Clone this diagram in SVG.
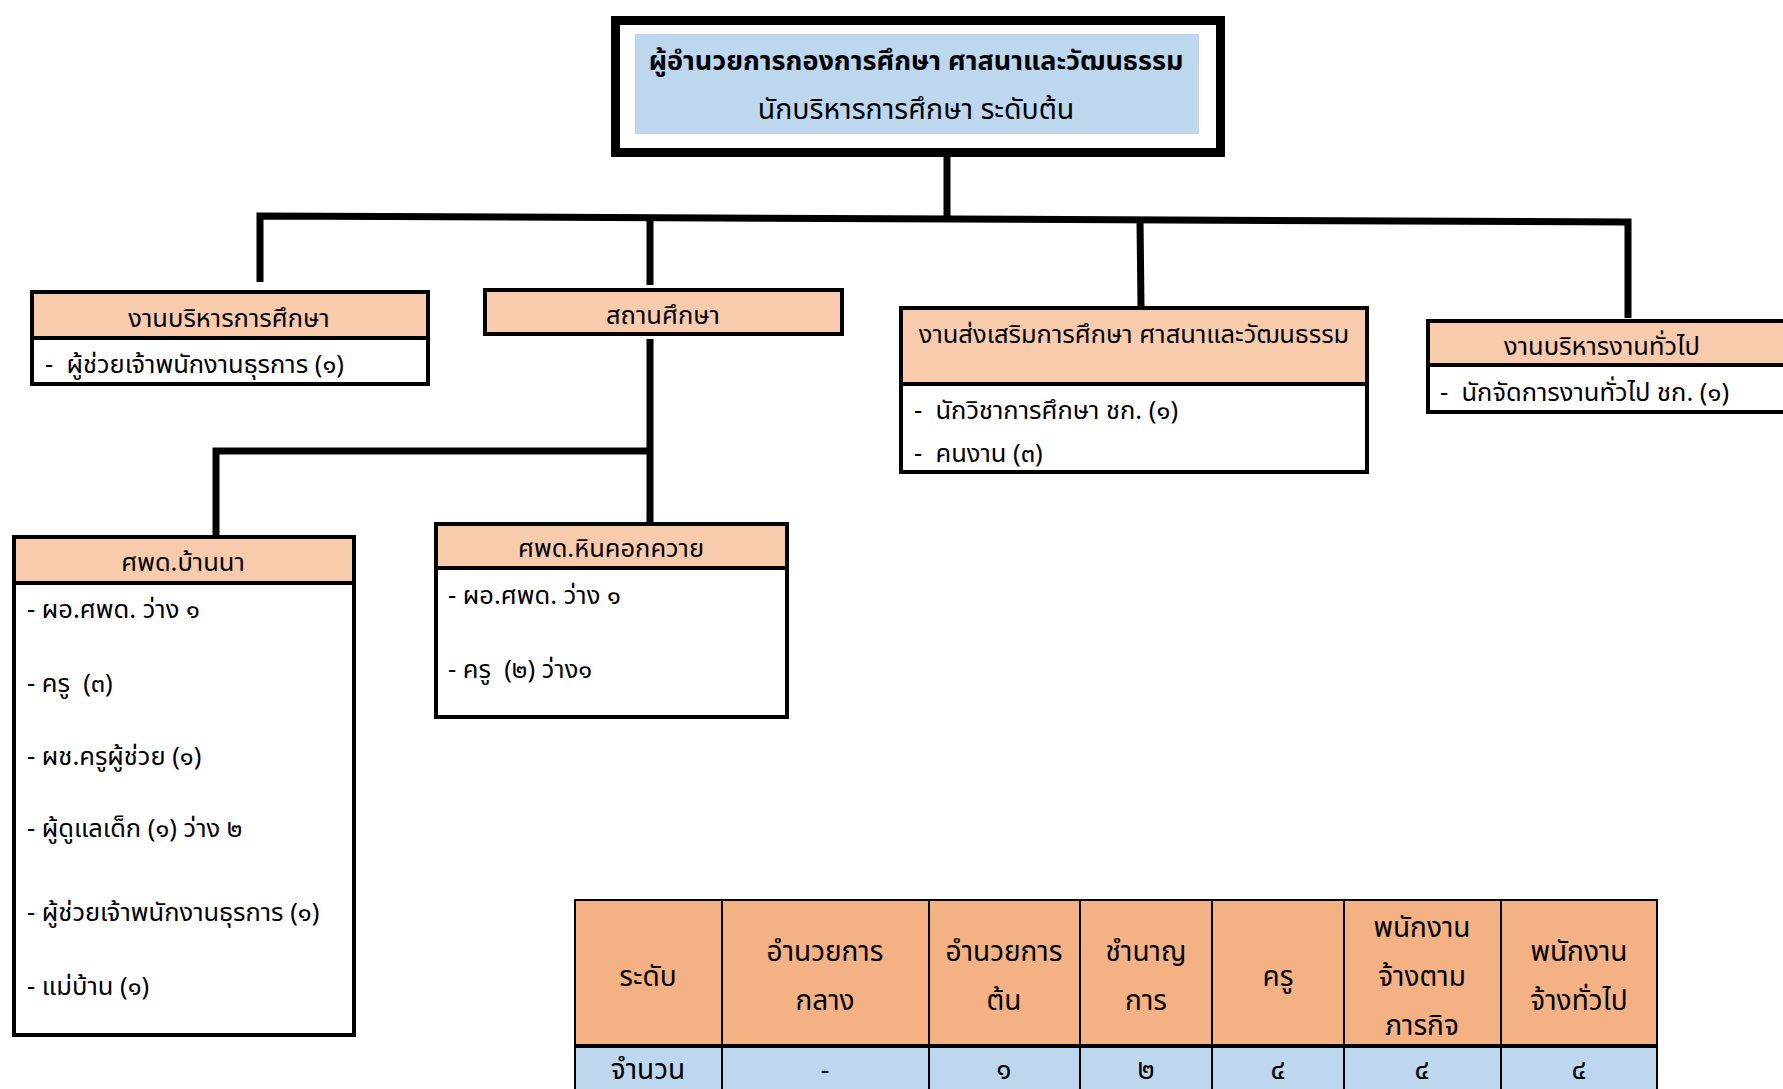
<svg xmlns="http://www.w3.org/2000/svg" width="1783" height="1089" viewBox="0 0 1783 1089" xml:space="preserve">
<style>
  text { font-family: "Noto Sans Thai", "Noto Sans", "DejaVu Sans", sans-serif; fill: #000; white-space: pre; }
  .t { font-size: 25.5px; }
  .tt { font-size: 28px; }
  .c { text-anchor: middle; }
  .b { font-weight: bold; }
  .box { fill: #fff; stroke: #000; stroke-width: 4; }
  .hdr { fill: #F8CBAD; stroke: #000; stroke-width: 4; }
  .conn { fill: none; stroke: #000; stroke-width: 7; stroke-linejoin: miter; }
  .th { fill: #F4B183; stroke: #000; stroke-width: 2; }
  .td { fill: #BDD7EE; stroke: #000; stroke-width: 2; }
</style>
<rect width="1783" height="1089" fill="#fff"/>
<g id="connectors">
  <line class="conn" x1="947" y1="157" x2="947" y2="218"/>
  <polyline class="conn" points="260,282 260,216 1628,222 1628,318"/>
  <line class="conn" x1="650" y1="217" x2="650" y2="285"/>
  <line class="conn" x1="1140" y1="220" x2="1141" y2="306"/>
  <line class="conn" x1="650" y1="339" x2="650" y2="522"/>
  <polyline class="conn" points="216,536 216,451 650,451"/>
</g>
<g id="director">
  <rect x="615.5" y="20.5" width="605" height="132" fill="#fff" stroke="#000" stroke-width="9"/>
  <rect x="635" y="34" width="564" height="100" fill="#BDD7EE"/>
  <text class="c b" x="916" y="70" font-size="27">ผู้อำนวยการกองการศึกษา ศาสนาและวัฒนธรรม</text>
  <text class="c" x="916" y="119" font-size="28.5">นักบริหารการศึกษา ระดับต้น</text>
</g>
<g id="admin-edu">
  <rect class="box" x="32" y="292" width="396" height="92"/>
  <rect class="hdr" x="32" y="292" width="396" height="46"/>
  <text class="t c" x="229" y="327">งานบริหารการศึกษา</text>
  <text class="t" x="45" y="373">-  ผู้ช่วยเจ้าพนักงานธุรการ (๑)</text>
</g>
<g id="school">
  <rect class="hdr" x="485" y="290" width="357" height="44"/>
  <text class="t c" x="663" y="324">สถานศึกษา</text>
</g>
<g id="promotion">
  <rect class="box" x="901" y="308" width="466" height="164"/>
  <rect class="hdr" x="901" y="308" width="466" height="76"/>
  <text class="t c" x="1134" y="343">งานส่งเสริมการศึกษา ศาสนาและวัฒนธรรม</text>
  <text class="t" x="914" y="419">-  นักวิชาการศึกษา ชก. (๑)</text>
  <text class="t" x="914" y="462">-  คนงาน (๓)</text>
</g>
<g id="general-admin">
  <rect class="box" x="1428" y="321" width="370" height="91"/>
  <rect class="hdr" x="1428" y="321" width="370" height="44"/>
  <text class="t c" x="1602" y="355">งานบริหารงานทั่วไป</text>
  <text class="t" x="1440" y="401">-  นักจัดการงานทั่วไป ชก. (๑)</text>
</g>
<g id="ban-na">
  <rect class="box" x="14" y="537" width="340" height="498"/>
  <rect class="hdr" x="14" y="537" width="340" height="46"/>
  <text class="t c" x="183" y="571">ศพด.บ้านนา</text>
  <text class="t" x="27" y="618">- ผอ.ศพด. ว่าง ๑</text>
  <text class="t" x="27" y="692">- ครู  (๓)</text>
  <text class="t" x="27" y="765">- ผช.ครูผู้ช่วย (๑)</text>
  <text class="t" x="27" y="837">- ผู้ดูแลเด็ก (๑) ว่าง ๒</text>
  <text class="t" x="27" y="921">- ผู้ช่วยเจ้าพนักงานธุรการ (๑)</text>
  <text class="t" x="27" y="995">- แม่บ้าน (๑)</text>
</g>
<g id="hin-khok-khwai">
  <rect class="box" x="436" y="524" width="351" height="193"/>
  <rect class="hdr" x="436" y="524" width="351" height="44"/>
  <text class="t c" x="611" y="557">ศพด.หินคอกควาย</text>
  <text class="t" x="448" y="604">- ผอ.ศพด. ว่าง ๑</text>
  <text class="t" x="448" y="678">- ครู  (๒) ว่าง๑</text>
</g>
<g id="summary-table">
  <rect class="th" x="575" y="900" width="147" height="146"/>
  <rect class="th" x="722" y="900" width="207" height="146"/>
  <rect class="th" x="929" y="900" width="151" height="146"/>
  <rect class="th" x="1080" y="900" width="132" height="146"/>
  <rect class="th" x="1212" y="900" width="132" height="146"/>
  <rect class="th" x="1344" y="900" width="157" height="146"/>
  <rect class="th" x="1501" y="900" width="156" height="146"/>
  <rect class="td" x="575" y="1046" width="147" height="60"/>
  <rect class="td" x="722" y="1046" width="207" height="60"/>
  <rect class="td" x="929" y="1046" width="151" height="60"/>
  <rect class="td" x="1080" y="1046" width="132" height="60"/>
  <rect class="td" x="1212" y="1046" width="132" height="60"/>
  <rect class="td" x="1344" y="1046" width="157" height="60"/>
  <rect class="td" x="1501" y="1046" width="156" height="60"/>
  <line x1="575" y1="1046" x2="1657" y2="1046" stroke="#000" stroke-width="4"/>
  <text class="tt c" x="648" y="986">ระดับ</text>
  <text class="tt c" x="825" y="961">อำนวยการ</text>
  <text class="tt c" x="825" y="1010">กลาง</text>
  <text class="tt c" x="1004" y="961">อำนวยการ</text>
  <text class="tt c" x="1004" y="1010">ต้น</text>
  <text class="tt c" x="1146" y="961">ชำนาญ</text>
  <text class="tt c" x="1146" y="1010">การ</text>
  <text class="tt c" x="1278" y="986">ครู</text>
  <text class="tt c" x="1422" y="937">พนักงาน</text>
  <text class="tt c" x="1422" y="986">จ้างตาม</text>
  <text class="tt c" x="1422" y="1035">ภารกิจ</text>
  <text class="tt c" x="1579" y="961">พนักงาน</text>
  <text class="tt c" x="1579" y="1010">จ้างทั่วไป</text>
  <text class="tt c" x="648" y="1079">จำนวน</text>
  <text class="tt c" x="825" y="1079">-</text>
  <text class="tt c" x="1004" y="1079">๑</text>
  <text class="tt c" x="1146" y="1079">๒</text>
  <text class="tt c" x="1278" y="1079">๔</text>
  <text class="tt c" x="1422" y="1079">๔</text>
  <text class="tt c" x="1579" y="1079">๔</text>
</g>
</svg>
